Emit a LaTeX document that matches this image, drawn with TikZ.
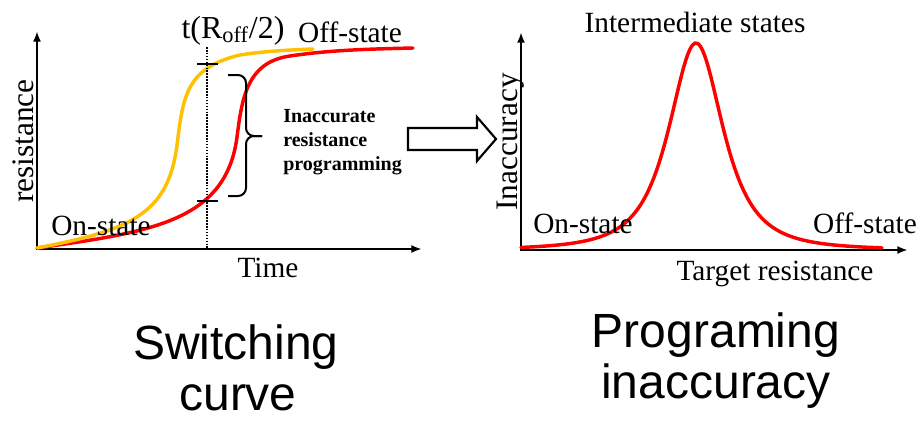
\documentclass[tikz,border=0pt]{standalone}
\usepackage{fontspec}
\setmainfont{Liberation Serif}
\newfontfamily\capfont{Liberation Sans}
\usetikzlibrary{arrows.meta}
\definecolor{swgold}{RGB}{255,192,0}
\definecolor{swred}{RGB}{255,0,0}

\begin{document}
\begin{tikzpicture}[x=0.75pt, y=-0.75pt,
		axis/.style={line width=1.6pt, -{Latex[length=8pt,width=6pt]}},
		swcurve/.style={line width=2.6pt, line cap=round},
		lbl/.style={font=\fontsize{22}{26}\selectfont, inner sep=0pt, anchor=base},
		ylbl/.style={font=\fontsize{23.5}{28}\selectfont, inner sep=0pt, anchor=base, rotate=90},
		capt/.style={font=\capfont\fontsize{36}{40}\selectfont, inner sep=0pt, anchor=base}]
		\useasboundingbox (0,0) rectangle (921,421);

		% switching curve
		\begin{scope}
			\draw[axis] (37,250) -- (37,31);
			\draw[axis] (36,249) -- (422,249);

			\draw[swcurve, swred] (37,248) .. controls (150,232) and (226,222) .. (237,137)
				.. controls (242,98) and (247,62) .. (290,56)
				.. controls (330,50) and (370,49) .. (413,48);
			\draw[swcurve, swgold] (37,248) .. controls (130,230) and (168,215) .. (177,145)
				.. controls (183,98) and (185,68) .. (240,55)
				.. controls (265,51) and (290,50) .. (313,49);

			\draw[densely dotted, line width=1.2pt] (207,47) -- (207,250);
			\draw[line width=1.5pt] (197,64) -- (218,64);
			\draw[line width=1.5pt] (197,201) -- (218,201);

			\draw[line width=1.5pt, rounded corners=6pt] (228,75) -- (246,75) -- (246,136) -- (262,136);
			\draw[line width=1.5pt, rounded corners=6pt] (228,196) -- (246,196) -- (246,136) -- (262,136);

			\node[font=\fontsize{24}{28}\selectfont, inner sep=0pt, anchor=base] (troff) at (233,38) {t(R\textsubscript{off}/2)};
			\node[lbl] (offL) at (350,42) {Off-state};
			\node[lbl] (onL) at (101,235) {On-state};
			\node[lbl] (timeL) at (268,277) {Time};
			\node[ylbl] (resL) at (33,141) {resistance};
			\node[font=\bfseries\fontsize{15}{18}\selectfont, inner sep=0pt, anchor=north west, align=left]
				(inacc) at (283,109.5) {Inaccurate\\resistance\\programming};
		\end{scope}

		\draw[line width=1.6pt, line join=miter] (408,128) -- (477,128) -- (477,117) -- (496,139)
			-- (477,161) -- (477,150) -- (408,150) -- cycle;

		% programming inaccuracy
		\begin{scope}
			\draw[axis] (521,251) -- (521,32);
			\draw[axis] (520,250) -- (908,250);
			\draw[swcurve, swred] plot[domain=521:882, samples=140, smooth]
				(\x, {250-207*(1+((\x-696)/41.8)^2)^(-1.5)});

			\node[lbl] (interm) at (695,32) {Intermediate states};
			\node[lbl] (onR) at (583,233) {On-state};
			\node[lbl] (offR) at (865,233) {Off-state};
			\node[lbl] (target) at (775,280) {Target resistance};
			\node[ylbl] (inaccY) at (517,142) {Inaccuracy};
		\end{scope}

		\node[capt] (swA) at (236,359) {Switching};
		\node[capt] (swB) at (238,410) {curve};
		\node[capt] (prA) at (716,347) {Programing};
		\node[capt] (prB) at (716,398) {inaccuracy};
\end{tikzpicture}
\end{document}
